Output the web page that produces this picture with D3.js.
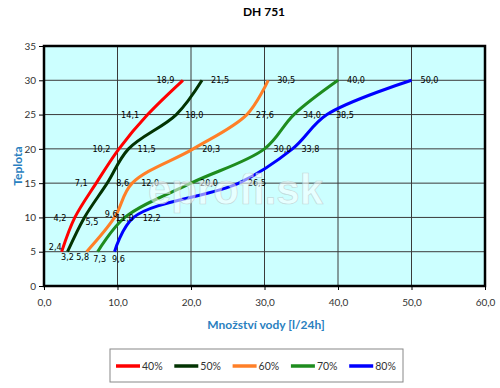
<!DOCTYPE html>
<html>
<head>
<meta charset="utf-8">
<script src="https://cdn.jsdelivr.net/npm/d3@7"></script>
<style>
body { margin: 0; background: #fff; }
svg { display: block; }
</style>
</head>
<body>
<div id="chart"></div>
<script>
// temperature levels (y) and water amount per humidity (x)
var temps = [5, 10, 15, 20, 25, 30];
var humidity = ["40%", "50%", "60%", "70%", "80%"];
var water40 = [2.4, 4.2, 7.1, 10.2, 14.1, 18.9];
var water50 = [3.2, 5.5, 8.6, 11.5, 18.0, 21.5];
var water60 = [5.8, 9.6, 12.0, 20.3, 27.6, 30.5];
var water70 = [7.3, 11.0, 20.0, 30.0, 34.0, 40.0];
var water80 = [9.6, 12.2, 26.5, 33.8, 38.5, 50.0];
var xTicks = [0, 10, 20, 30, 40, 50, 60];
var yTicks = [0, 5, 10, 15, 20, 25, 30, 35];

var colors = ["#ff0000", "#023302", "#ff7f27", "#1e8c1e", "#0000ff"];

// where each data label sits relative to its point
var placements = [
    ["ul", "l", "l", "l", "l", "l"],
    ["b", "br", "r", "r", "r", "r"],
    ["bl", "ul2", "r", "r", "r", "r"],
    ["br2", "c", "r", "r", "r", "r"],
    ["br3", "r", "r", "r", "r", "r"]
];
var offsets = {
    l: [-8.5, 0, "end"], r: [9, 0, "start"], c: [0, 0, "middle"],
    b: [0, 5.5, "middle"], bl: [-4, 5.5, "middle"], br: [1, 4.5, "start"],
    br2: [2, 7, "middle"], br3: [4, 7, "middle"],
    ul: [0, -5, "end"], ul2: [3, -4, "end"]
};

var allWater = [water40, water50, water60, water70, water80];
var data = humidity.map(function(h, i) {
    return {
        name: h,
        color: colors[i],
        points: temps.map(function(t, j) {
            return { x: allWater[i][j], y: t, place: placements[i][j] };
        })
    };
});

var W = 500, H = 388;
var margin = { top: 46, right: 15, bottom: 102, left: 44 },
    width = W - margin.left - margin.right,
    height = H - margin.top - margin.bottom;

var svg = d3.select("#chart")
    .append("svg")
    .attr("width", W)
    .attr("height", H);

svg.append("text")
    .attr("x", 264)
    .attr("y", 16)
    .attr("text-anchor", "middle")
    .style("font-family", "Lato, 'Open Sans', sans-serif")
    .style("font-weight", "bold")
    .style("font-size", "12px")
    .text("DH 751");

var g = svg.append("g")
    .attr("transform", "translate(" + margin.left + "," + margin.top + ")");

var x = d3.scaleLinear().domain([0, 60]).range([0, width]);
var y = d3.scaleLinear().domain([0, 35]).range([height, 0]);

g.append("rect")
    .attr("width", width)
    .attr("height", height)
    .attr("fill", "#ccffff");

// gridlines
g.selectAll(".vgrid")
    .data(xTicks.slice(1, -1))
    .enter()
    .append("line")
    .attr("x1", function(d) { return x(d); })
    .attr("x2", function(d) { return x(d); })
    .attr("y1", 0)
    .attr("y2", height)
    .attr("stroke", "#3a3a3a")
    .attr("stroke-width", 1);

g.selectAll(".hgrid")
    .data(yTicks.slice(1, -1))
    .enter()
    .append("line")
    .attr("x1", 0)
    .attr("x2", width)
    .attr("y1", function(d) { return y(d); })
    .attr("y2", function(d) { return y(d); })
    .attr("stroke", "#3a3a3a")
    .attr("stroke-width", 1);

// watermark
svg.append("text")
    .attr("x", 148)
    .attr("y", 204)
    .style("font-family", "'Liberation Sans', Arial, sans-serif")
    .style("font-weight", "bold")
    .style("font-size", "42px")
    .attr("fill", "#ffffff")
    .attr("fill-opacity", 0.55)
    .attr("stroke", "#b8c8c8")
    .attr("stroke-width", 0.7)
    .attr("stroke-opacity", 0.7)
    .text("eprofi.sk");

// axes
var fmt = function(d) { return d3.format(".1f")(d).replace(".", ","); };

var xAxis = g.append("g")
    .attr("transform", "translate(0," + height + ")")
    .call(d3.axisBottom(x).tickValues(xTicks).tickFormat(fmt).tickSize(4).tickSizeOuter(0));

var yAxis = g.append("g")
    .call(d3.axisLeft(y).tickValues(yTicks).tickSize(5).tickSizeOuter(0));

[xAxis, yAxis].forEach(function(a) {
    a.select(".domain").remove();
    a.selectAll("line").attr("stroke", "#000");
    a.selectAll("text")
        .attr("fill", "#333")
        .style("font-family", "Lato, 'Open Sans', sans-serif")
        .style("font-size", "10px");
});
xAxis.selectAll("text").attr("dy", "1.25em");

g.append("rect")
    .attr("width", width)
    .attr("height", height)
    .attr("fill", "none")
    .attr("stroke", "#000")
    .attr("stroke-width", 2.5);

// curves
var line = d3.line()
    .x(function(d) { return x(d.x); })
    .y(function(d) { return y(d.y); })
    .curve(d3.curveCatmullRom.alpha(0.5));

g.selectAll(".series")
    .data(data)
    .enter()
    .append("path")
    .attr("fill", "none")
    .attr("stroke", function(d) { return d.color; })
    .attr("stroke-width", 3)
    .attr("stroke-linejoin", "round")
    .attr("d", function(d) { return line(d.points); });

// data labels
data.forEach(function(s) {
    g.selectAll(null)
        .data(s.points)
        .enter()
        .append("text")
        .attr("x", function(d) { return x(d.x) + offsets[d.place][0]; })
        .attr("y", function(d) { return y(d.y) + offsets[d.place][1]; })
        .attr("dy", "0.35em")
        .attr("text-anchor", function(d) { return offsets[d.place][2]; })
        .style("font-family", "'DejaVu Sans Condensed', 'DejaVu Sans', sans-serif")
        .style("font-stretch", "condensed")
        .style("font-size", "9px")
        .attr("fill", "#000")
        .text(function(d) { return fmt(d.x); });
});

// axis titles
svg.append("text")
    .attr("x", 266)
    .attr("y", 329)
    .attr("text-anchor", "middle")
    .attr("fill", "#2a7fc0")
    .style("font-family", "Lato, 'Open Sans', sans-serif")
    .style("font-weight", "bold")
    .style("font-size", "12px")
    .text("Množství vody [l/24h]");

svg.append("text")
    .attr("transform", "translate(22," + (margin.top + height / 2) + ") rotate(-90)")
    .attr("text-anchor", "middle")
    .attr("fill", "#2a7fc0")
    .style("font-family", "Lato, 'Open Sans', sans-serif")
    .style("font-weight", "bold")
    .style("font-size", "12px")
    .text("Teplota");

// legend
var legend = svg.append("g").attr("transform", "translate(110,349)");
legend.append("rect")
    .attr("width", 293)
    .attr("height", 33)
    .attr("fill", "#fff")
    .attr("stroke", "#888")
    .attr("stroke-width", 1);

var items = legend.selectAll(".item")
    .data(data)
    .enter()
    .append("g")
    .attr("transform", function(d, i) { return "translate(" + (6 + i * 58.3) + ",17)"; });

items.append("line")
    .attr("x1", 0)
    .attr("x2", 24)
    .attr("stroke", function(d) { return d.color; })
    .attr("stroke-width", 3.5);

items.append("text")
    .attr("x", 26)
    .attr("dy", "0.35em")
    .attr("fill", "#333")
    .style("font-family", "Lato, 'Open Sans', sans-serif")
    .style("font-size", "10.5px")
    .text(function(d) { return d.name; });
</script>
</body>
</html>
